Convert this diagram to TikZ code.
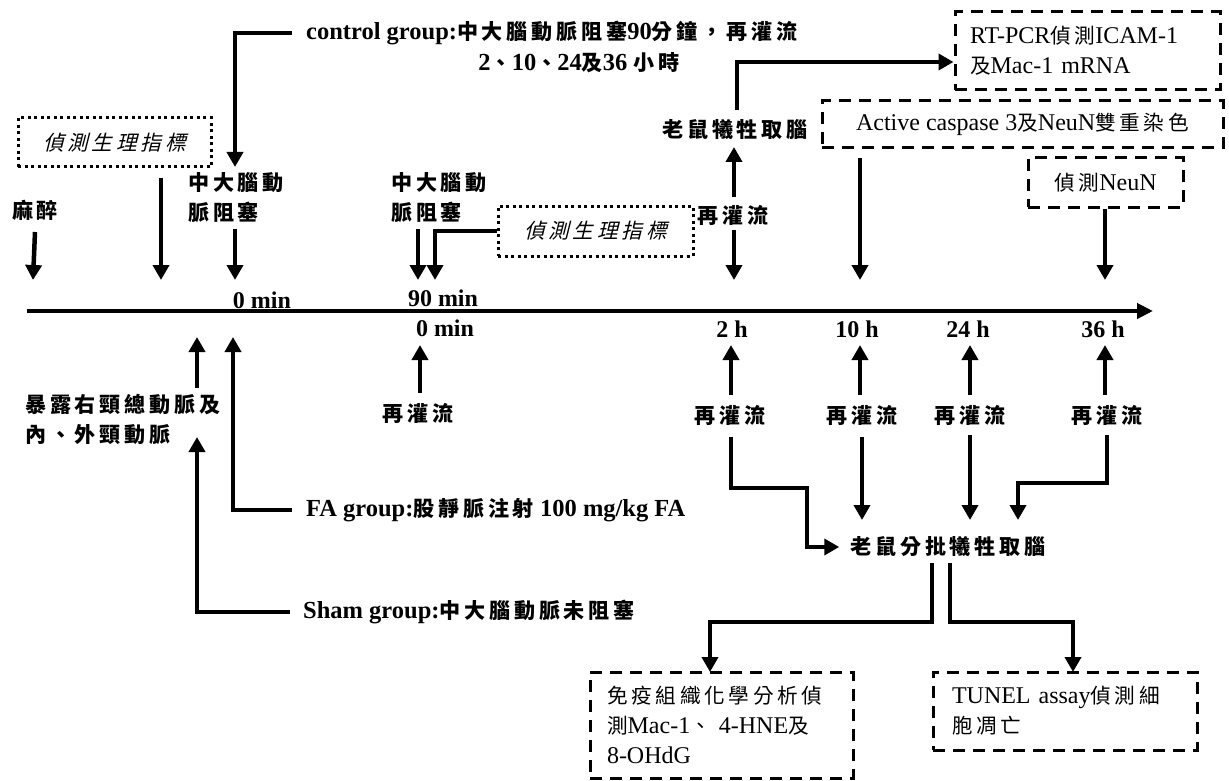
\documentclass[tikz,border=0pt]{standalone}
\usepackage{fontspec}
\setmainfont{Liberation Serif}
\newfontfamily\cjk[Scale=0.86,LetterSpace=18]{Noto Sans CJK TC}
\newfontfamily\cjkit[Scale=0.86,FakeSlant=0.25,LetterSpace=18]{Noto Sans CJK TC}
\newcommand\zhc[1]{{\cjk #1}}
\usetikzlibrary{arrows.meta,calc}
\begin{document}
\begin{tikzpicture}[x=1pt,y=-1pt,
  lbl/.style={inner sep=0pt,font=\fontsize{24.5}{30}\selectfont\bfseries},
  tlab/.style={inner sep=0pt,font=\fontsize{24}{26}\selectfont\bfseries},
  arr/.style={line width=4.5pt,-{Triangle[length=15pt,width=16pt]}},
  dbox/.style={draw,line width=3pt,dash pattern=on 12pt off 8pt,inner sep=0pt,font=\fontsize{24}{30}\selectfont},
  pbox/.style={draw,line width=3pt,dash pattern=on 3pt off 3.5pt,inner sep=0pt,font=\fontsize{24}{30}\selectfont}]
\useasboundingbox (0,0) rectangle (1229,781);

% timeline
\coordinate (tl0) at (27,311);
\coordinate (tl1) at (1153,311);
\draw[line width=4pt,-{Triangle[length=16pt,width=15pt]}] (tl0) -- (tl1);

% ---------- upper part ----------
\node[lbl] (anes) at (35,210) {\zhc{麻醉}};
\node[pbox,minimum width=193pt,minimum height=49pt] (phys1) at (114.5,142.5) {\cjkit 偵測生理指標};
\node[lbl,anchor=west,align=left] (mca1) at (188,198) {\zhc{中大腦動}\\\zhc{脈阻塞}};
\node[lbl,anchor=west] (ctrl) at (306,33) {control group:\zhc{中大腦動脈阻塞}90\zhc{分鐘，再灌流}};
\node[lbl] (ctrl2) at (579,63) {2\zhc{、}10\zhc{、}24\zhc{及}36 \zhc{小時}};
\node[tlab] (zero1) at (262,300) {0 min};
\node[lbl,anchor=west,align=left] (mca2) at (391,198) {\zhc{中大腦動}\\\zhc{脈阻塞}};
\node[pbox,minimum width=195pt,minimum height=50pt] (phys2) at (595.5,231) {\cjkit 偵測生理指標};
\node[tlab] (ninety) at (443,298) {90 min};
\node[lbl] (kill) at (735,130) {\zhc{老鼠犧牲取腦}};
\node[lbl] (rfa) at (733,215) {\zhc{再灌流}};
\node[dbox,minimum width=265pt,minimum height=78pt,text width=235pt,align=left] (rt) at (1087.5,51) {RT-PCR\zhc{偵測}ICAM-1\\\zhc{及}Mac-1 mRNA};
\node[dbox,minimum width=401pt,minimum height=47pt] (act) at (1022.5,124.5) {Active caspase 3\zhc{及}NeuN\zhc{雙重染色}};
\node[dbox,minimum width=155pt,minimum height=49pt] (neun) at (1105.5,182.5) {\zhc{偵測}NeuN};

\coordinate (dA) at (33,280);
\coordinate (dB) at (161,280);
\coordinate (dC) at (235,280);
\coordinate (dD) at (418,280);
\coordinate (dE) at (435,280);
\coordinate (dF) at (734,280);
\coordinate (dG) at (860,280);
\coordinate (dH) at (1105,280);

\draw[arr] (anes.south |- 0,232) -- (dA);
\draw[arr] (dB |- 0,178) -- (dB);
\draw[arr] ([xshift=-14pt]ctrl.west) -| (dC |- 0,167);
\draw[arr] (dC |- 0,229) -- (dC);
\draw[arr] (dD |- 0,229) -- (dD);
\draw[arr] (phys2.west) -| (dE);
\draw[arr] (dF |- 0,197) -- (dF |- 0,147);
\draw[arr] (dF |- 0,230) -- (dF);
\draw[arr] (737,110) |- ([yshift=-11pt]rt.west);
\draw[arr] (dG |- act.south) ++(0,9) -- (dG);
\draw[arr] (dH |- neun.south) -- (dH);

% ---------- lower part ----------
\node[tlab] (zero2) at (445,328) {0 min};
\node[tlab] (h2) at (732,329) {2 h};
\node[tlab] (h10) at (857,329) {10 h};
\node[tlab] (h24) at (968,329) {24 h};
\node[tlab] (h36) at (1103,329) {36 h};
\node[lbl] (rf0) at (418,413) {\zhc{再灌流}};
\node[lbl] (rf2) at (730,415) {\zhc{再灌流}};
\node[lbl] (rf10) at (862,415) {\zhc{再灌流}};
\node[lbl] (rf24) at (970,415) {\zhc{再灌流}};
\node[lbl] (rf36) at (1107,415) {\zhc{再灌流}};
\node[lbl,anchor=west,align=left] (expo) at (25,419) {\zhc{暴露右頸總動脈及}\\\zhc{內、外頸動脈}};
\node[lbl,anchor=west] (fa) at (306,510) {FA group:\zhc{股靜脈注射} 100 mg/kg FA};
\node[lbl,anchor=west] (sham) at (303,612) {Sham group:\zhc{中大腦動脈未阻塞}};
\node[lbl] (batch) at (948,547) {\zhc{老鼠分批犧牲取腦}};
\node[dbox,minimum width=263pt,minimum height=106pt,text width=229pt,align=left] (ihc) at (721.5,725) {\zhc{免疫組織化學分析偵}\\\zhc{測}Mac-1\zhc{、} 4-HNE\zhc{及}\\8-OHdG};
\node[dbox,minimum width=264pt,minimum height=78pt,text width=226pt,align=left] (tunel) at (1065,711) {TUNEL assay\zhc{偵測細}\\\zhc{胞凋亡}};

\coordinate (uA) at (197,337);
\coordinate (uB) at (233,337);
\coordinate (uC) at (420,345);
\coordinate (uD) at (731,345);
\coordinate (uE) at (860,345);
\coordinate (uF) at (970,345);
\coordinate (uG) at (1105,345);

\draw[arr] (uA |- 0,388) -- (uA);
\draw[arr] ([xshift=-14pt]fa.west) -| (uB);
\draw[arr] ([xshift=-13pt]sham.west) -| (uA |- 0,437);
\draw[arr] (uC |- 0,393) -- (uC);
\draw[arr] (uD |- 0,395) -- (uD);
\draw[arr] (uE |- 0,395) -- (uE);
\draw[arr] (uF |- 0,395) -- (uF);
\draw[arr] (uG |- 0,395) -- (uG);

\draw[arr] (731,437) |- (807,488) |- ([xshift=-11pt]batch.west);
\draw[arr] (862,437) -- (862,520);
\draw[arr] (970,435) -- (970,520);
\draw[arr] (1107,435) |- (1018,483) -- (1018,520);
\draw[arr] (932,563) |- (710,622) -- (710,672);
\draw[arr] (950,563) |- (1073,622) -- (1073,672);
\end{tikzpicture}
\end{document}
